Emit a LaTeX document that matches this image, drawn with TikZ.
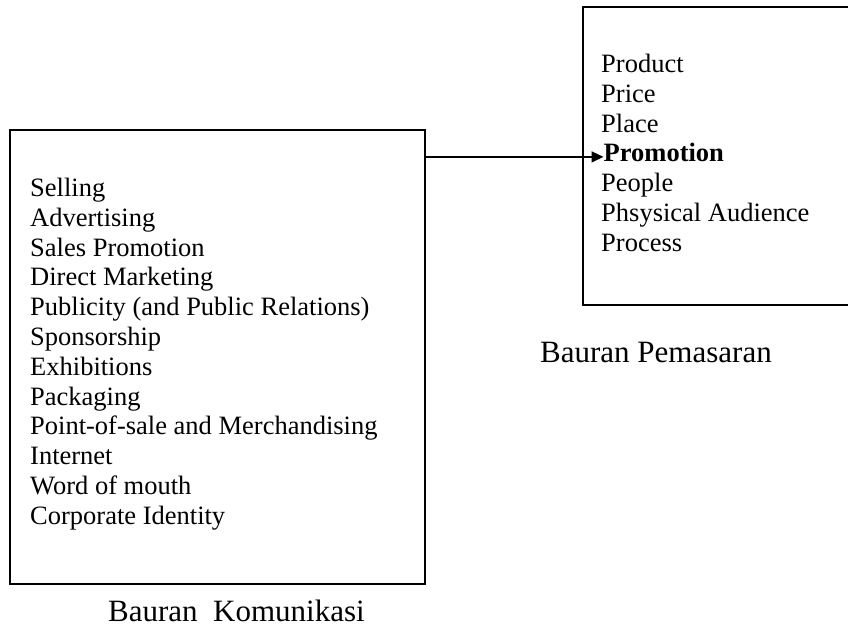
\documentclass[tikz,border=0pt]{standalone}
\usepackage{fontspec}
\setmainfont{Liberation Serif}
\usetikzlibrary{arrows.meta}
\tikzset{
  frame/.style={draw, line width=1.8pt, rectangle, inner sep=0pt},
  item/.style={anchor=base west, inner sep=0pt, font=\fontsize{26.5}{29.7}\selectfont},
  caption/.style={anchor=base west, inner sep=0pt, font=\fontsize{31}{36}\selectfont},
  link/.style={line width=1.4pt, -{Triangle[length=12pt,width=11pt]}}
}
\begin{document}
\begin{tikzpicture}[x=1pt, y=-1pt]
  \useasboundingbox (0,0) rectangle (848,627);
  \clip (0,0) rectangle (848,627);

  % the two boxes
  \node[frame, minimum width=415pt, minimum height=454pt] (kom) at (217.5,357) {};
  \node[frame, minimum width=269pt, minimum height=298pt] (mix) at (717.5,156) {};

  % communication mix
  \foreach [count=\i from 0] \t in {Selling, Advertising, Sales Promotion,
      Direct Marketing, Publicity (and Public Relations), Sponsorship,
      Exhibitions, Packaging, Point-of-sale and Merchandising, Internet,
      Word of mouth, Corporate Identity}
    \node[item] (k\i) at (30,196.5+29.8*\i) {\t};

  % marketing mix
  \node[item] (p0) at (601,72.5) {Product};
  \node[item] (p1) at (601,102.3) {Price};
  \node[item] (p2) at (601,132.1) {Place};
  \node[item] (promo) at (603.5,161.9) {\bfseries Promotion};
  \node[item] (p4) at (601,191.7) {People};
  \node[item] (p5) at (601,221.5) {Phsysical Audience};
  \node[item] (p6) at (601,251.3) {Process};

  % captions
  \node[caption] (capmix) at (540,362) {Bauran Pemasaran};
  \node[caption] (capkom) at (108,621) {Bauran~ Komunikasi};

  % connector
  \coordinate (tip) at ([yshift=5pt]promo.base west);
  \draw[link] (tip -| kom.east) -- (tip);
\end{tikzpicture}
\end{document}
